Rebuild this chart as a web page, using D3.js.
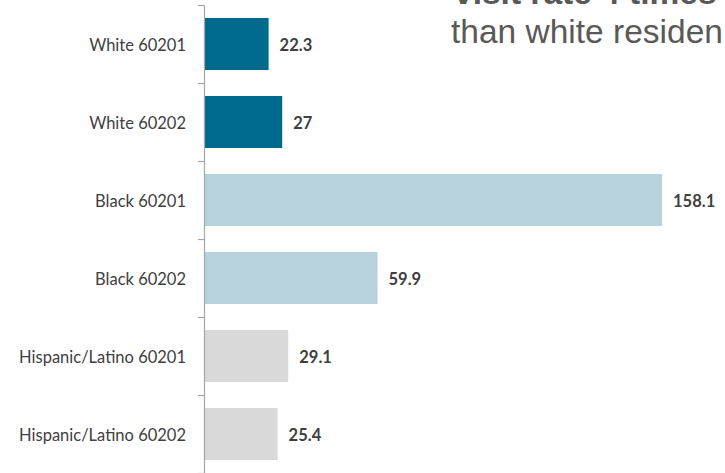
<!DOCTYPE html>
<html>
<head>
<meta charset="utf-8">
<script src="https://cdn.jsdelivr.net/npm/d3@7"></script>
<style>
  html, body { margin: 0; padding: 0; background: #ffffff; }
  svg { display: block; }
</style>
</head>
<body>
<svg id="chart" width="725" height="473"></svg>
<script>
const categories = ["White 60201", "White 60202", "Black 60201", "Black 60202", "Hispanic/Latino 60201", "Hispanic/Latino 60202"];
const values = [22.3, 27, 158.1, 59.9, 29.1, 25.4];
const valueLabels = ["22.3", "27", "158.1", "59.9", "29.1", "25.4"];
const groups = ["White", "White", "Black", "Black", "Hispanic", "Hispanic"];
const groupColors = { White: "#006a8e", Black: "#b8d2db", Hispanic: "#d9d9d9" };
const titleLines = ["visit rate 4 times", "than white residen"];

const svg = d3.select("#chart");
const axisX = 204;

const x = d3.scaleLinear().domain([0, 158.1]).range([axisX, 662]);
const y = d3.scaleBand().domain(categories).range([5, 473]).paddingInner(1 / 3).paddingOuter(1 / 6);
const yIdx = d3.scaleLinear().domain([0, categories.length]).range([5, 473]);

// bars
svg.append("g").selectAll("rect")
  .data(categories)
  .join("rect")
  .attr("x", x(0))
  .attr("y", d => y(d))
  .attr("width", (d, i) => x(values[i]) - x(0))
  .attr("height", y.bandwidth())
  .attr("fill", (d, i) => groupColors[groups[i]]);

// category labels
const labelAxis = svg.append("g")
  .attr("transform", `translate(${axisX},0)`)
  .call(d3.axisLeft(y).tickSize(0).tickPadding(18));
labelAxis.select(".domain").remove();
labelAxis.selectAll("text")
  .attr("font-family", "Lato, 'Open Sans', sans-serif")
  .attr("font-size", 16.5)
  .attr("dy", "0.4em")
  .attr("fill", "#404040");

// boundary ticks + axis line
const tickAxis = svg.append("g")
  .attr("transform", `translate(${axisX},0)`)
  .call(d3.axisLeft(yIdx).tickValues(d3.range(categories.length + 1)).tickFormat("").tickSize(6).tickSizeOuter(0));
tickAxis.select(".domain").attr("stroke", "#a6a6a6").attr("stroke-width", 1.2);
tickAxis.selectAll(".tick line").attr("stroke", "#a6a6a6").attr("stroke-width", 1.2);

// value labels
svg.append("g").selectAll("text")
  .data(categories)
  .join("text")
  .attr("x", (d, i) => x(values[i]) + 11)
  .attr("y", d => y(d) + y.bandwidth() / 2)
  .attr("dy", "0.4em")
  .attr("font-family", "Lato, 'Open Sans', sans-serif")
  .attr("font-weight", "bold")
  .attr("font-size", 16.5)
  .attr("fill", "#404040")
  .text((d, i) => valueLabels[i]);

// partial title
svg.append("text")
  .attr("x", 454).attr("y", 4)
  .attr("font-family", "'Liberation Sans', Arial, sans-serif")
  .attr("font-size", 33.5).attr("font-weight", "bold")
  .attr("fill", "#595959")
  .text(titleLines[0]);
svg.append("text")
  .attr("x", 451).attr("y", 43)
  .attr("font-family", "'Liberation Sans', Arial, sans-serif")
  .attr("font-size", 33.5)
  .attr("fill", "#595959")
  .text(titleLines[1]);
</script>
</body>
</html>
